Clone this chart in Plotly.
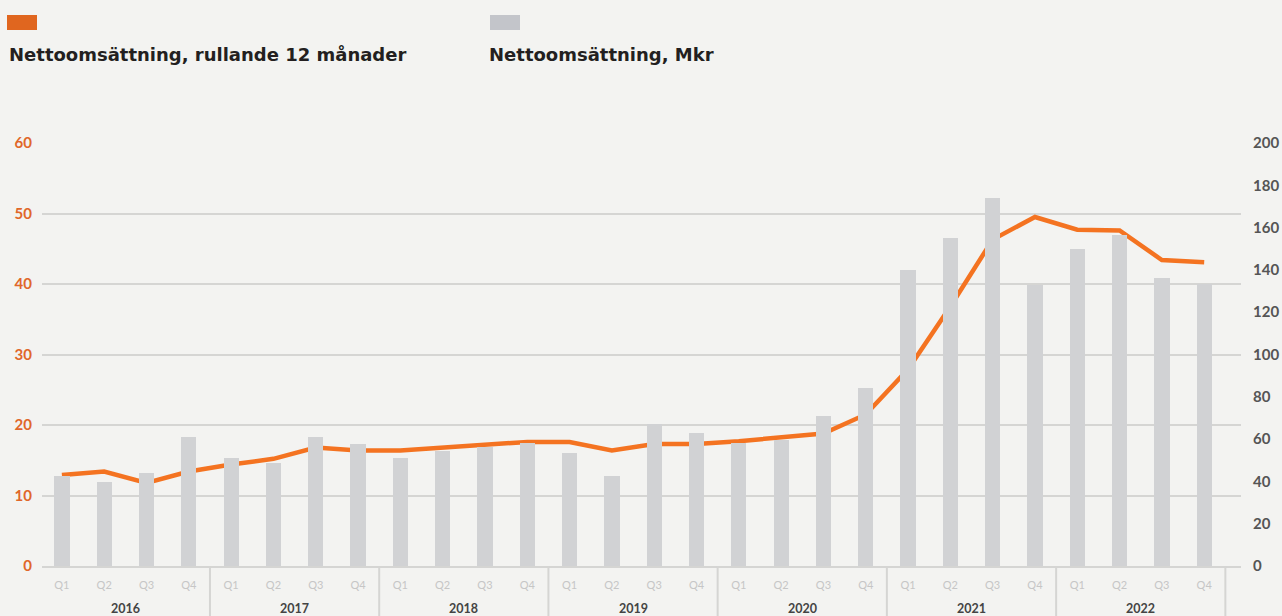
import plotly.graph_objects as go

# ---------------- data ----------------
years = ["2016", "2017", "2018", "2019", "2020", "2021", "2022"]
quarters = ["Q1", "Q2", "Q3", "Q4"]

# Nettoomsättning per quarter, Mkr (right axis, bars)
net_sales_mkr = [
    42.5, 39.5, 44.0, 61.0,   # 2016
    51.0, 48.5, 61.0, 57.5,   # 2017
    51.0, 54.5, 56.5, 58.0,   # 2018
    53.5, 42.5, 67.0, 63.0,   # 2019
    58.0, 59.5, 71.0, 84.0,   # 2020
    140.0, 155.0, 174.0, 133.0,  # 2021
    150.0, 156.5, 136.0, 133.5,  # 2022
]

# Nettoomsättning, rullande 12 månader (left axis, line)
net_sales_r12 = [
    12.9, 13.4, 11.8, 13.4,
    14.4, 15.2, 16.8, 16.4,
    16.4, 16.8, 17.2, 17.6,
    17.6, 16.4, 17.3, 17.3,
    17.7, 18.2, 18.8, 21.5,
    27.9, 36.8, 46.3, 49.5,
    47.7, 47.6, 43.4, 43.1,
]

left_ticks = [0, 10, 20, 30, 40, 50, 60]
right_ticks = [0, 20, 40, 60, 80, 100, 120, 140, 160, 180, 200]

legend_labels = ["Nettoomsättning, rullande 12 månader", "Nettoomsättning, Mkr"]

# ---------------- layout constants ----------------
W, H = 1282, 616
ML, MR, MT, MB = 42, 41, 143, 50
PW, PH = W - ML - MR, H - MT - MB

BG = "#f3f3f1"
ORANGE_LINE = "#f47321"
ORANGE_TXT = "#e0672a"
ORANGE_LEG = "#e0661f"
BAR = "#d1d2d4"
BAR_LEG = "#c3c5ca"
GRID = "#d5d5d3"
FONT = "Lato"
LEG_FONT = "DejaVu Sans"


def px_x(p):
    return (p - ML) / PW


def px_y(p):
    return (H - MB - p) / PH


n = len(net_sales_mkr)
xs = list(range(n))
qlabels = [quarters[i % 4] for i in xs]

fig = go.Figure()

fig.add_trace(go.Bar(
    x=xs, y=net_sales_mkr, yaxis="y2",
    marker=dict(color=BAR, line=dict(width=0)),
    width=0.36, name=legend_labels[1], showlegend=False,
))

fig.add_trace(go.Scatter(
    x=xs, y=net_sales_r12, yaxis="y", mode="lines",
    line=dict(color=ORANGE_LINE, width=4.5),
    name=legend_labels[0], showlegend=False,
))

shapes = []
# year dividers below axis
for k in range(len(years) + 1):
    xv = -0.5 + 4 * k
    shapes.append(dict(type="line", xref="x", yref="paper",
                       x0=xv, x1=xv, y0=0, y1=-MB / PH,
                       line=dict(color=GRID, width=2)))

# legend squares
shapes.append(dict(type="rect", xref="paper", yref="paper",
                   x0=px_x(7), x1=px_x(37), y0=px_y(30), y1=px_y(15),
                   fillcolor=ORANGE_LEG, line=dict(width=0)))
shapes.append(dict(type="rect", xref="paper", yref="paper",
                   x0=px_x(490), x1=px_x(520), y0=px_y(30), y1=px_y(15),
                   fillcolor=BAR_LEG, line=dict(width=0)))

annotations = []
for i, yr in enumerate(years):
    annotations.append(dict(
        x=4 * i + 1.5, y=0, xref="x", yref="paper",
        yshift=-42, yanchor="middle", xanchor="center",
        text="<b>%s</b>" % yr, showarrow=False,
        font=dict(family=FONT, size=12.5, color="#444444"),
    ))

annotations.append(dict(
    x=px_x(7), y=px_y(54), xref="paper", yref="paper",
    xanchor="left", yanchor="middle", showarrow=False,
    text="<b>%s</b>" % legend_labels[0],
    font=dict(family=LEG_FONT, size=18, color="#231f20"),
))
annotations.append(dict(
    x=px_x(487), y=px_y(54), xref="paper", yref="paper",
    xanchor="left", yanchor="middle", showarrow=False,
    text="<b>%s</b>" % legend_labels[1],
    font=dict(family=LEG_FONT, size=18, color="#231f20"),
))

fig.update_layout(
    width=W, height=H,
    margin=dict(l=ML, r=MR, t=MT, b=MB, autoexpand=False),
    paper_bgcolor=BG, plot_bgcolor=BG,
    bargap=0,
    shapes=shapes,
    annotations=annotations,
    xaxis=dict(
        range=[-0.47, n - 1 + 0.87],
        tickmode="array", tickvals=xs, ticktext=qlabels,
        tickfont=dict(family=FONT, size=11, color="#c6c6c6"),
        ticks="", ticklabelstandoff=8,
        showgrid=False, zeroline=False,
        showline=True, linecolor=GRID, linewidth=2,
        fixedrange=True, automargin=False,
    ),
    yaxis=dict(
        range=[0, 60], tickmode="array", tickvals=left_ticks,
        tickfont=dict(family=FONT, size=15, color=ORANGE_TXT, weight="bold"),
        ticks="", ticklabelstandoff=9,
        showgrid=True, gridcolor=GRID, gridwidth=2,
        zeroline=False, showline=False, automargin=False,
    ),
    yaxis2=dict(
        range=[0, 200], tickmode="array", tickvals=right_ticks,
        overlaying="y", side="right",
        tickfont=dict(family=FONT, size=15, color="#555555", weight="bold"),
        ticks="", ticklabelstandoff=11,
        showgrid=False, zeroline=False, showline=False, automargin=False,
    ),
)

fig.write_html(
    "out.html",
    config={"displayModeBar": False},
    post_script="document.body.style.margin='0';document.body.style.background='%s';" % BG,
)
